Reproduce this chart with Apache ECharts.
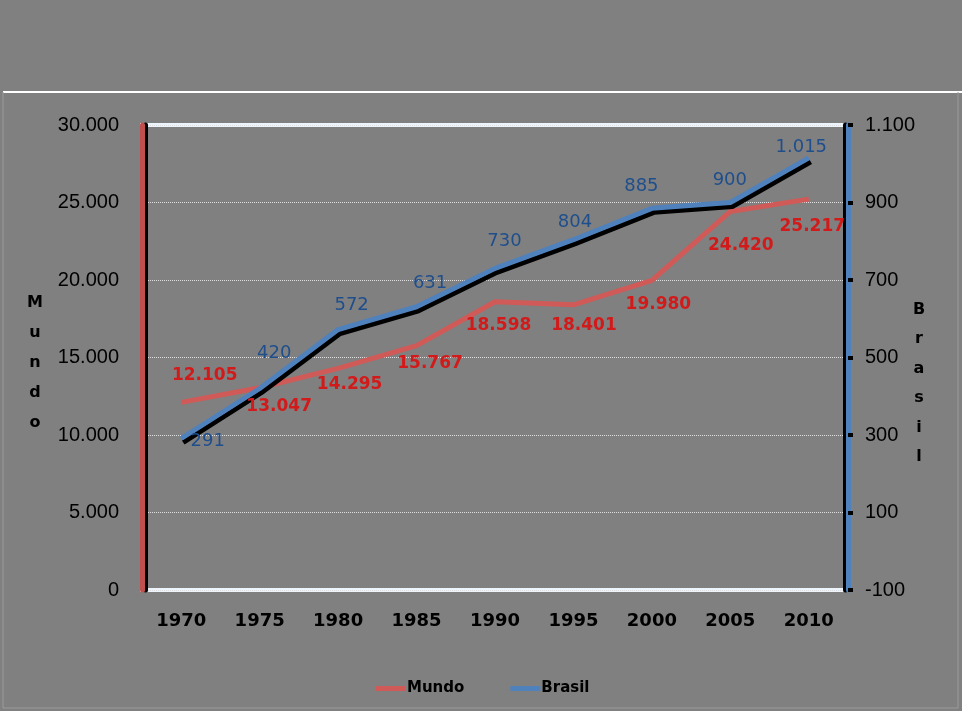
<!DOCTYPE html>
<html><head><meta charset="utf-8">
<script src="https://cdn.jsdelivr.net/npm/echarts@6/dist/echarts.min.js"></script>
<style>html,body{margin:0;padding:0;background:#808080;}#c{width:962px;height:711px;}</style>
</head><body><div id="c"></div>
<script>
const years = ['1970','1975','1980','1985','1990','1995','2000','2005','2010'];
const mundo = [12105, 13047, 14295, 15767, 18598, 18401, 19980, 24420, 25217];
const brasil = [291, 420, 572, 631, 730, 804, 885, 900, 1015];
const leftTitle = 'Mundo';
const rightTitle = 'Brasil';

// label placement (pixel offsets from each point), layout only
const mundoLabelOffset = [[24,-26],[20,19],[12,17],[14,18],[4,24],[11,21],[7,25],[11,35],[4,28]];
const brasilLabelOffset = [[27,3],[15,-35],[14,-24],[14,-23],[10,-27],[2,-17],[-10,-21],[0,-22],[-7,-10]];

function fmt(v){ return String(v).replace(/\B(?=(\d{3})+(?!\d))/g, '.'); }

const chart = echarts.init(document.getElementById('c'));
const tickFont = {color:'#000', fontFamily:'Liberation Sans, Arial', fontSize:20};
const titleStyle = {fill:'#000', font:'bold 16px "DejaVu Sans"', align:'center', lineHeight:30};
chart.setOption({
  backgroundColor:'#808080',
  animation:false,
  graphic:[
    {type:'line', shape:{x1:3,y1:92,x2:962,y2:92}, style:{stroke:'#ffffff', lineWidth:2}},
    {type:'line', shape:{x1:3,y1:92,x2:3,y2:708}, style:{stroke:'#9a9a9a', lineWidth:1}},
    {type:'line', shape:{x1:3,y1:708,x2:958,y2:708}, style:{stroke:'#9a9a9a', lineWidth:1}},
    {type:'line', shape:{x1:958,y1:92,x2:958,y2:708}, style:{stroke:'#9a9a9a', lineWidth:1}},
    {type:'text', x:35, y:288, style:Object.assign({text:leftTitle.split('').join('\n')}, titleStyle)},
    {type:'text', x:919, y:295, style:Object.assign({text:rightTitle.split('').join('\n')}, titleStyle, {lineHeight:29.5})}
  ],
  grid:{left:142, right:114, top:125, bottom:121, show:true, borderColor:'#eef4fb', borderWidth:4, backgroundColor:'transparent'},
  legend:{
    top:676, left:371, itemGap:46, itemWidth:30, itemHeight:5,
    icon:'rect',
    textStyle:{color:'#000', fontFamily:'DejaVu Sans', fontWeight:'bold', fontSize:15, padding:[0,0,0,-4]},
    data:[{name:'Mundo', itemStyle:{color:'#D05A57'}}, {name:'Brasil', itemStyle:{color:'#4F81BD'}}]
  },
  xAxis:{
    type:'category', data:years, boundaryGap:true,
    axisLine:{show:false}, axisTick:{show:false},
    axisLabel:{color:'#000', fontFamily:'DejaVu Sans', fontWeight:'bold', fontSize:18, margin:22}
  },
  yAxis:[
    {type:'value', min:0, max:30000, interval:5000, position:'left',
     axisLine:{show:true, lineStyle:{color:'#C0504D', width:5, shadowColor:'#000', shadowOffsetX:3, shadowOffsetY:0}},
     axisTick:{show:false},
     axisLabel:Object.assign({margin:23, formatter:fmt}, tickFont),
     splitLine:{show:true, lineStyle:{color:'#e0e0e0', type:'dotted', width:1}}
    },
    {type:'value', min:-100, max:1100, interval:200, position:'right',
     axisLine:{show:true, lineStyle:{color:'#4F81BD', width:5, shadowColor:'#000', shadowOffsetX:-3, shadowOffsetY:0}},
     axisTick:{show:true, inside:false, length:5, lineStyle:{color:'#000', width:4}},
     axisLabel:Object.assign({margin:17, formatter:fmt}, tickFont),
     splitLine:{show:false}
    }
  ],
  series:[
    {name:'Mundo', type:'line', yAxisIndex:0,
     data:mundo.map((v,i)=>({value:v, label:{position:mundoLabelOffset[i], align:'center', verticalAlign:'middle'}})),
     symbol:'circle', symbolSize:1, showSymbol:true, color:'#D05A57',
     itemStyle:{color:'rgba(0,0,0,0)'},
     lineStyle:{color:'#D05A57', width:5},
     labelLayout:{hideOverlap:false},
     label:{show:true, formatter:p=>fmt(p.value), color:'#D21A1A', fontFamily:'DejaVu Sans', fontWeight:'bold', fontSize:17}
    },
    {name:'Brasil', type:'line', yAxisIndex:1,
     data:brasil.map((v,i)=>({value:v, label:{position:brasilLabelOffset[i], align:'center', verticalAlign:'middle'}})),
     symbol:'circle', symbolSize:1, showSymbol:true, color:'#4F81BD',
     itemStyle:{color:'rgba(0,0,0,0)'},
     lineStyle:{color:'#4F81BD', width:5, shadowColor:'#000', shadowOffsetX:2, shadowOffsetY:4, shadowBlur:0},
     labelLayout:{hideOverlap:false},
     label:{show:true, formatter:p=>fmt(p.value), color:'#1F4E8C', fontFamily:'DejaVu Sans', fontSize:18}
    }
  ]
});
</script>
</body></html>
